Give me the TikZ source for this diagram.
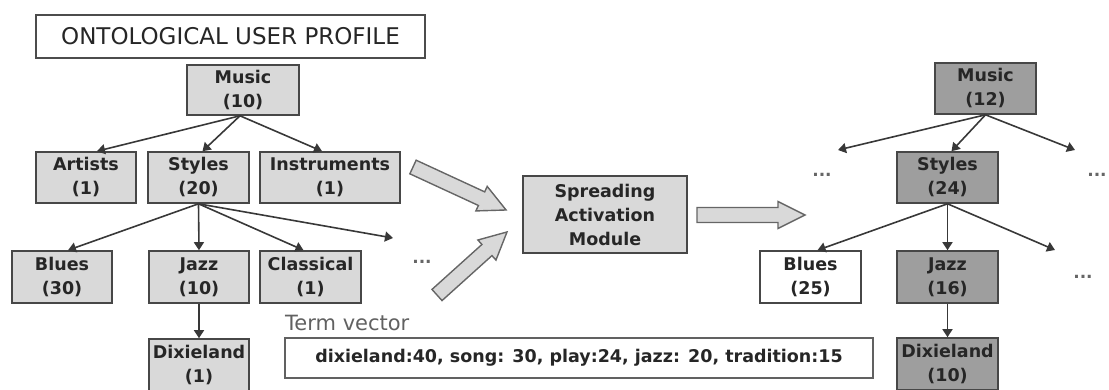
\documentclass[tikz,border=0pt]{standalone}
\usepackage{fontspec}
\setmainfont{DejaVu Sans}
\usetikzlibrary{arrows.meta,calc}
\begin{document}
\begin{tikzpicture}[x=1pt,y=1pt,
  boxbase/.style={draw=black!72, line width=1.6pt, align=center, inner sep=0pt,
    text=black!85, font=\fontsize{17.5}{24}\selectfont\bfseries},
  light/.style={boxbase, fill=black!15},
  dark/.style={boxbase, fill=black!38},
  plain/.style={boxbase, fill=white},
  sz/.style 2 args={minimum width=#1, minimum height=#2},
  link/.style={draw=black!78, line width=1.6pt, -{Triangle[width=10pt,length=8pt]}},
  blk/.style={draw=black!60, fill=black!15, line width=1.4pt, line join=miter},
  dots/.style={text=black!60, inner sep=0pt, font=\fontsize{17}{17}\selectfont\bfseries}
]
\useasboundingbox (0,0) rectangle (1109,-390);

% block arrow: start point, angle, length
\newcommand\blockarrow[4]{%
  \begin{scope}[shift={(#1,#2)}, rotate=#3]
    \draw[blk] (0,-7.5) -- (#4-27,-7.5) -- (#4-27,-13.5) -- (#4,0)
      -- (#4-27,13.5) -- (#4-27,7.5) -- (0,7.5) -- cycle;
  \end{scope}}

% ---- profile before spreading
\node[draw=black!70, line width=1.4pt, fill=white, minimum width=389pt, minimum height=43pt,
  inner sep=0pt, text=black!85, font=\fontsize{23}{23}\selectfont] (title) at (230.5,-36.5)
  {ONTOLOGICAL USER PROFILE};

\node[light, sz={112pt}{50pt}] (mL) at (243,-90) {Music\\(10)};
\node[light, sz={100pt}{51pt}] (art) at (86,-177.5) {Artists\\(1)};
\node[light, sz={101pt}{51pt}] (stL) at (198.5,-177.5) {Styles\\(20)};
\node[light, sz={140pt}{51pt}] (ins) at (330,-177.5) {Instruments\\(1)};
\node[light, sz={100pt}{52pt}] (blL) at (62,-277) {Blues\\(30)};
\node[light, sz={100pt}{52pt}] (jzL) at (199,-277) {Jazz\\(10)};
\node[light, sz={101pt}{52pt}] (cls) at (310.5,-277) {Classical\\(1)};
\node[light, sz={100pt}{52pt}] (dxL) at (199,-365) {Dixieland\\(1)};
\node[dots] (dL) at (422,-262) {...};
\coordinate (fL) at (393,-238);

\draw[link] ([xshift=-3pt]mL.south) -- ([xshift=11pt]art.north);
\draw[link] ([xshift=-3pt]mL.south) -- ([xshift=4pt]stL.north);
\draw[link] ([xshift=-3pt]mL.south) -- ([xshift=-8pt]ins.north);
\draw[link] (stL.south) -- ([xshift=6pt]blL.north);
\draw[link] (stL.south) -- (jzL.north);
\draw[link] (stL.south) -- ([xshift=-7pt]cls.north);
\draw[link] (stL.south) -- (fL);
\draw[link] (jzL.south) -- (dxL.north);

% ---- term vector
\node[anchor=west, inner sep=0pt, text=black!62, font=\fontsize{21}{21}\selectfont] (tvl) at (285,-323) {Term vector};
\node[draw=black!62, line width=1.4pt, fill=white, minimum width=588pt, minimum height=40pt,
  inner sep=0pt, text=black!85, font=\fontsize{17.5}{20}\selectfont\bfseries] (tv) at (579,-358)
  {dixieland:40, song: 30, play:24, jazz: 20, tradition:15};

% ---- spreading activation
\node[light, sz={164pt}{77pt}] (sam) at (605,-214.5) {Spreading\\Activation\\Module};
\blockarrow{413}{-167}{-24.8}{102.5}
\blockarrow{437}{-295}{42}{94.2}
\blockarrow{697}{-215}{0}{108}

% ---- profile after spreading
\node[dark, sz={101pt}{51pt}] (mR) at (985.5,-88.5) {Music\\(12)};
\node[dark, sz={101pt}{51pt}] (stR) at (947.5,-177.5) {Styles\\(24)};
\node[plain, sz={101pt}{52pt}] (blR) at (810.5,-277) {Blues\\(25)};
\node[dark, sz={101pt}{52pt}] (jzR) at (947.5,-277) {Jazz\\(16)};
\node[dark, sz={101pt}{52pt}] (dxR) at (947.5,-364) {Dixieland\\(10)};
\coordinate (fR1) at (838,-150);
\coordinate (fR2) at (1075,-150);
\coordinate (fR3) at (1055,-250);
\node[dots] (dR1) at (822,-175) {...};
\node[dots] (dR2) at (1097,-175) {...};
\node[dots] (dR3) at (1083,-277) {...};

\draw[link] (mR.south) -- (fR1);
\draw[link] (mR.south) -- ([xshift=4pt]stR.north);
\draw[link] (mR.south) -- (fR2);
\draw[link] (stR.south) -- ([xshift=7pt]blR.north);
\draw[link] (stR.south) -- (jzR.north);
\draw[link] (stR.south) -- (fR3);
\draw[link] (jzR.south) -- (dxR.north);
\end{tikzpicture}
\end{document}
